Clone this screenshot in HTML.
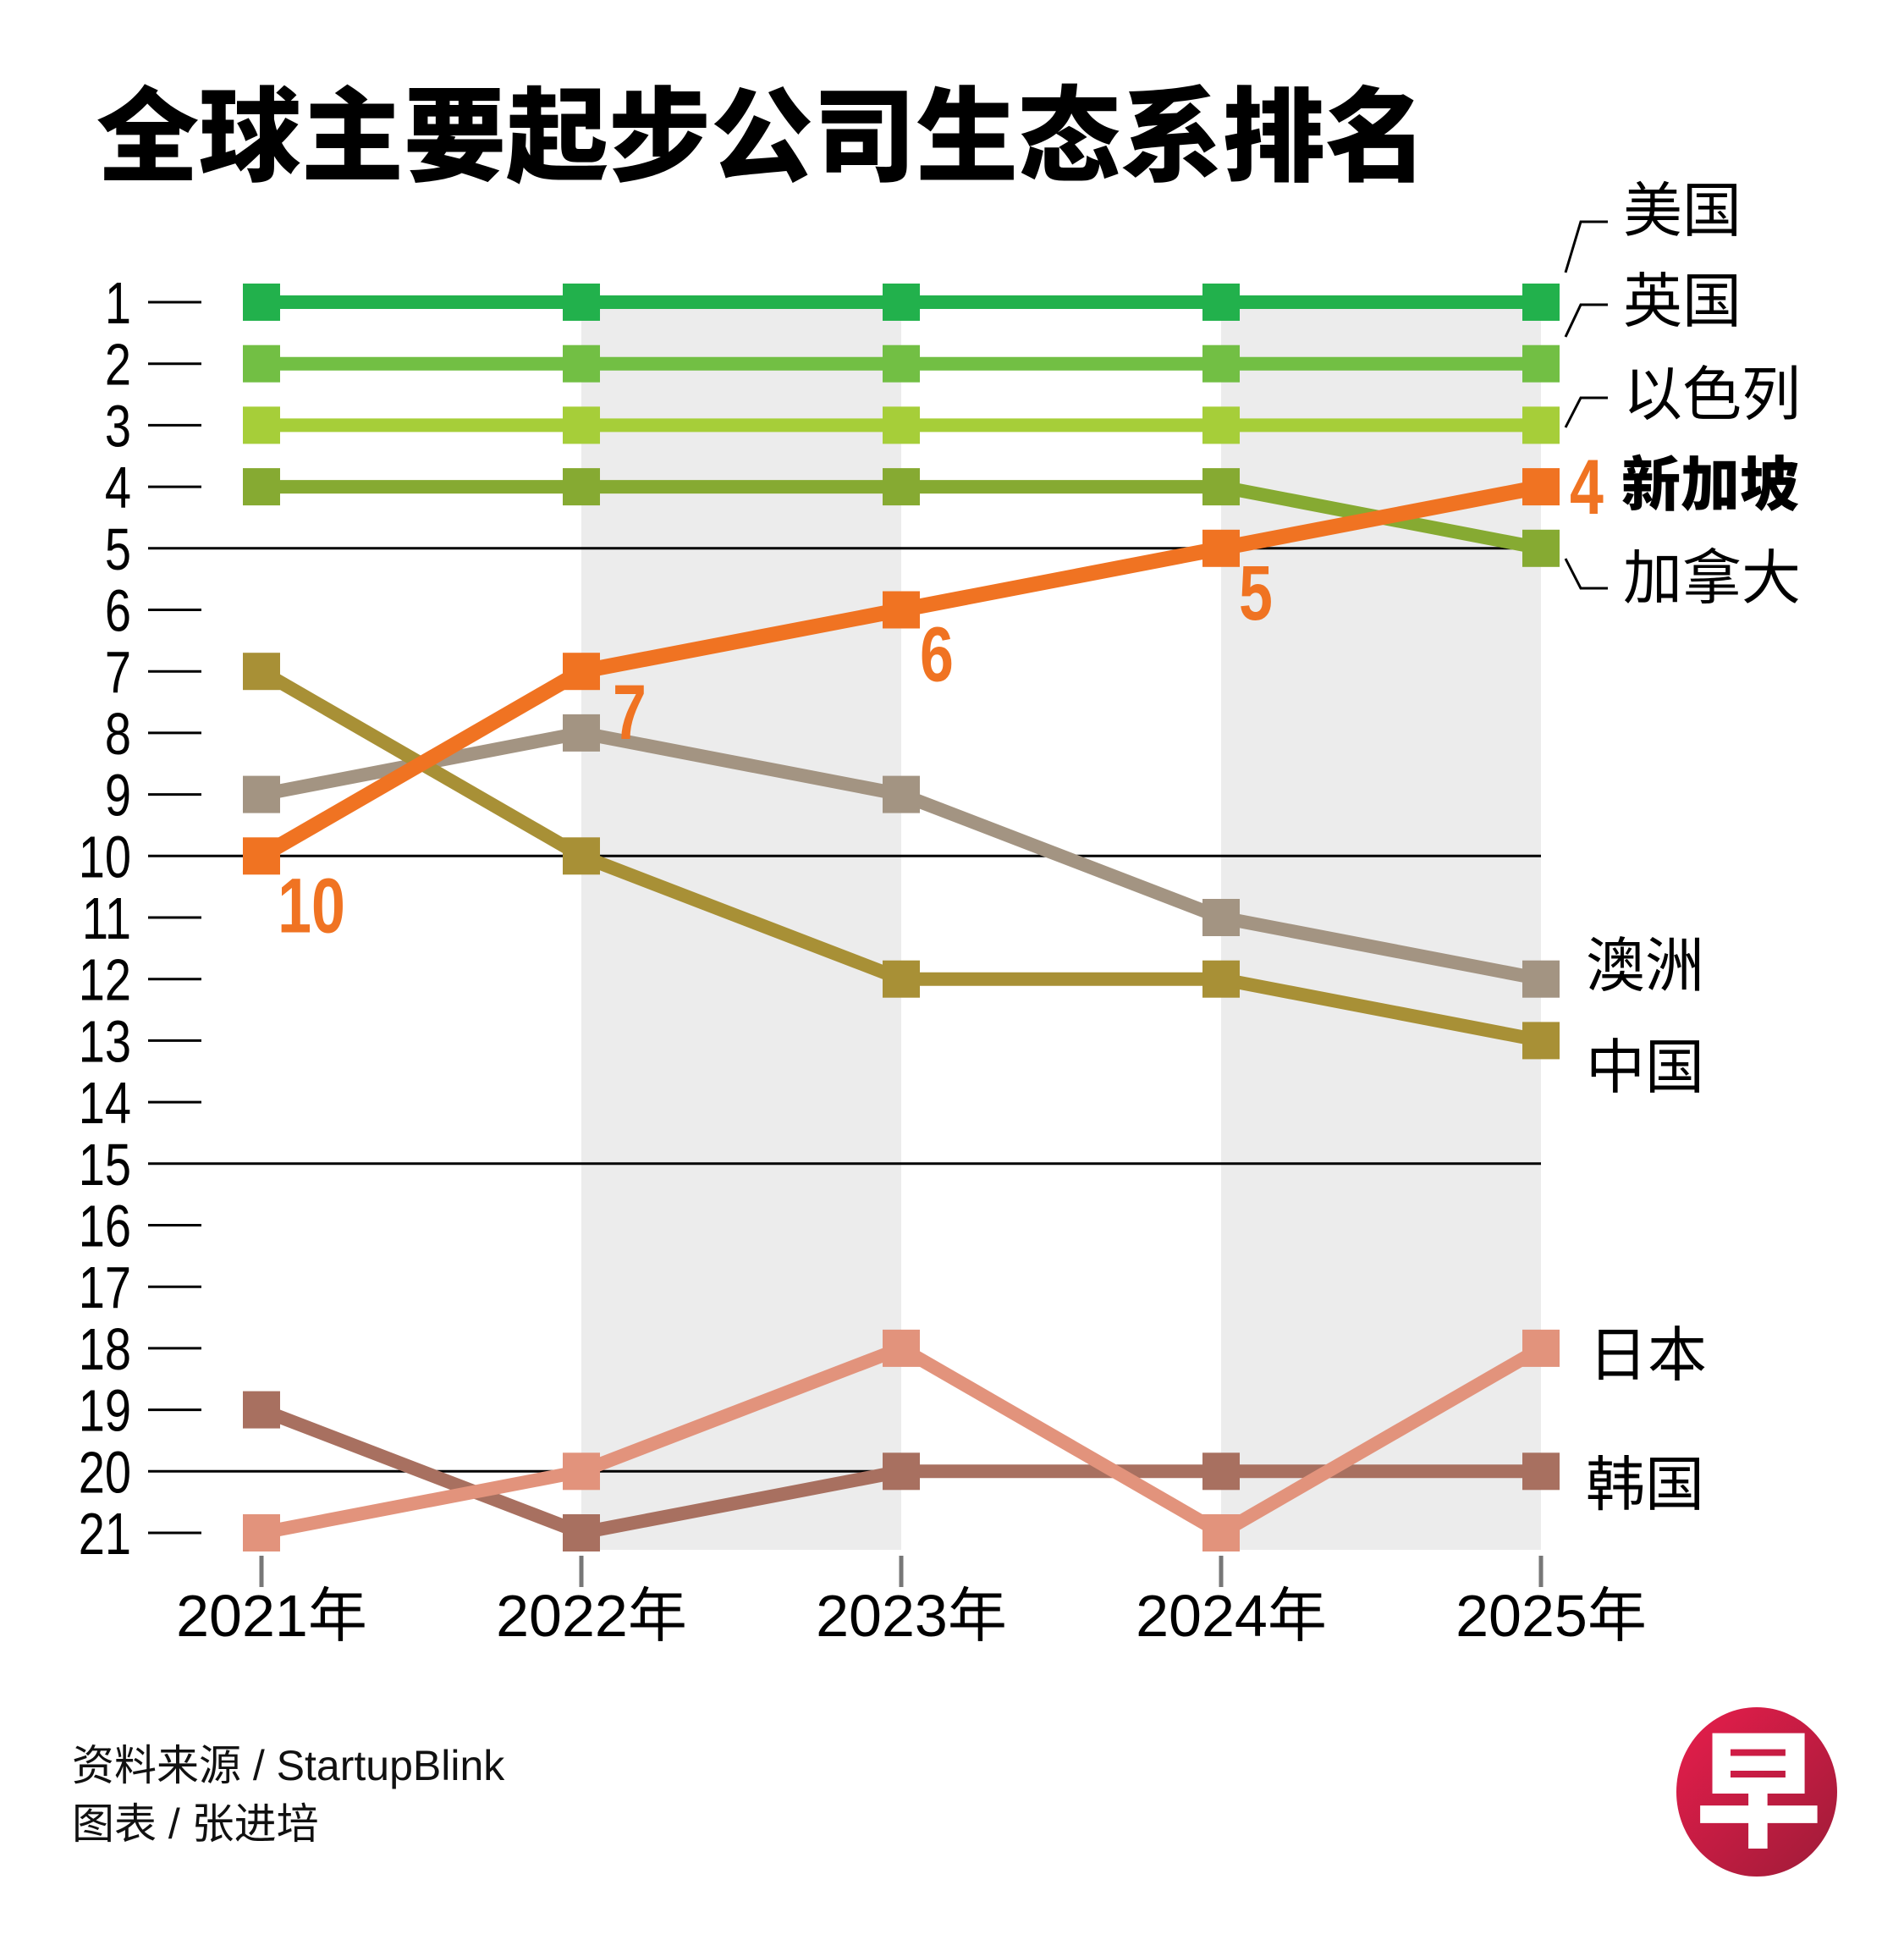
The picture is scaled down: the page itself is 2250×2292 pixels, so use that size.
<!DOCTYPE html>
<html><head><meta charset="utf-8">
<style>
html,body{margin:0;padding:0;background:#fff;}
svg{display:block;}
text{font-family:"Liberation Sans","Noto Sans CJK SC",sans-serif;}
.cjk{font-family:"Liberation Sans","Noto Sans CJK SC",sans-serif;}
</style></head>
<body>
<svg id="chart" width="2250" height="2292" viewBox="0 0 2250 2292" xmlns="http://www.w3.org/2000/svg">
  <text x="114" y="204" font-size="121" font-weight="900" class="cjk" fill="#000">全球主要起步公司生态系排名</text>
  <g id="bg"></g>
  <g id="grid"></g>
  <g id="series"></g>
  <g id="labels"></g>
  <text x="85" y="2103" font-size="50" class="cjk" fill="#111">资料来源 / StartupBlink</text>
  <text x="85" y="2172" font-size="50" class="cjk" fill="#111">图表 / 张进培</text>
  <g>
    <defs><linearGradient id="lg" x1="0" y1="0" x2="1" y2="1"><stop offset="0" stop-color="#e81d4c"/><stop offset="1" stop-color="#9e1c38"/></linearGradient></defs>
    <ellipse cx="2076" cy="2117" rx="95" ry="100" fill="url(#lg)"/>
    <text x="2078" y="2170" font-size="150" font-weight="900" text-anchor="middle" class="cjk" fill="#fff">早</text>
  </g>
</svg>
<script>
const years = ["2021年","2022年","2023年","2024年","2025年"];
const rankTicks = [1,2,3,4,5,6,7,8,9,10,11,12,13,14,15,16,17,18,19,20,21];
const majorRanks = [5,10,15,20];
const usRanks = [1,1,1,1,1];
const ukRanks = [2,2,2,2,2];
const israelRanks = [3,3,3,3,3];
const canadaRanks = [4,4,4,4,5];
const australiaRanks = [9,8,9,11,12];
const chinaRanks = [7,10,12,12,13];
const japanRanks = [21,20,18,21,18];
const koreaRanks = [19,21,20,20,20];
const singaporeRanks = [10,7,6,5,4];

const NS = "http://www.w3.org/2000/svg";
const x = i => 309 + i * 378;
const y = r => 357 + (r - 1) * 72.7;
function mk(tag, attrs, parent){const e=document.createElementNS(NS,tag);for(const k in attrs)e.setAttribute(k,attrs[k]);parent.appendChild(e);return e;}
const bg=document.getElementById('bg'),grid=document.getElementById('grid'),ser=document.getElementById('series'),lab=document.getElementById('labels');

[[1,2],[3,4]].forEach((p,i)=>{
  const r=mk('rect',{x:x(p[0]),y:y(1),width:x(p[1])-x(p[0]),height:y(21)-y(1)+20,fill:'#ececec'},bg);
  
  
});

rankTicks.forEach(r=>{
  const major=majorRanks.includes(r);
  const l=mk('line',{x1:175,x2:major?x(4):238,y1:y(r),y2:y(r),stroke:'#000','stroke-width':3},grid);
  
  
  const t=mk('text',{x:155,y:y(r)+25,'font-size':70,'text-anchor':'end',fill:'#000',transform:`translate(155,0) scale(0.8,1) translate(-155,0)`},grid);
  t.textContent=r;
  
  
});

years.forEach((yr,i)=>{
  const tk=mk('line',{x1:x(i),x2:x(i),y1:1838,y2:1875,stroke:'#777','stroke-width':5},grid);
  
  
  const t=mk('text',{x:x(i)+12,y:1933,'font-size':70,'text-anchor':'middle',fill:'#000',class:'cjk'},grid);
  t.textContent=yr;
  
  
});

const seriesList=[
  ['usa',usRanks,'#22b14c'],['uk',ukRanks,'#72bf44'],['israel',israelRanks,'#a6ce39'],
  ['canada',canadaRanks,'#86aa32'],['australia',australiaRanks,'#a39482'],['china',chinaRanks,'#a89036'],
  ['korea',koreaRanks,'#a87060'],['japan',japanRanks,'#e2937c'],['singapore',singaporeRanks,'#f07322']
];
seriesList.forEach(([name,vals,col])=>{
  const g=mk('g',{},ser);
  
  
  const pl=mk('polyline',{points:vals.map((v,i)=>x(i)+','+y(v)).join(' '),fill:'none',stroke:col,'stroke-width':name==='singapore'?18:16,'stroke-linejoin':'miter'},g);
  
  
  vals.forEach((v,i)=>{
    const m=mk('rect',{x:x(i)-22,y:y(v)-22,width:44,height:44,fill:col},g);
    
    
  });
});

const sgOffsets=[[59,60],[57,50],[42,54],[41,54],[0,0]];
singaporeRanks.forEach((v,i)=>{
  let tx,ty;
  if(i===4){tx=x(i)+34;ty=y(v)+32;}
  else{tx=x(i)+sgOffsets[i][0];ty=y(v)+sgOffsets[i][1]+30;}
  const t=mk('text',{x:tx,y:ty,'font-size':92,'font-weight':'bold','text-anchor':i===4?'start':'middle',fill:'#f07322',transform:`translate(${tx},0) scale(0.78,1) translate(${-tx},0)`},lab);
  t.textContent=v;
  
  
});

const cl=[
  ['美国',1918,273,false,'M1850 322 L1868 262 L1900 262'],
  ['英国',1918,380,false,'M1850 398 L1868 360 L1900 360'],
  ['以色列',1918,490,false,'M1850 505 L1868 470 L1900 470'],
  ['新加坡',1916,597,true,null],
  ['加拿大',1918,707,false,'M1850 660 L1868 695 L1900 695'],
  ['澳洲',1874,1165,false,null],
  ['中国',1874,1285,false,null],
  ['日本',1877,1625,false,null],
  ['韩国',1874,1778,false,null]
];
cl.forEach(([t,tx,ty,b,path])=>{
  const e=mk('text',{x:tx,y:ty,'font-size':70,'font-weight':b?'900':'normal',fill:'#000',class:'cjk'},lab);
  e.textContent=t;
  
  
  if(path){
    const p=mk('path',{d:path,fill:'none',stroke:'#000','stroke-width':3},lab);
    
    
  }
});
</script>
</body></html>
